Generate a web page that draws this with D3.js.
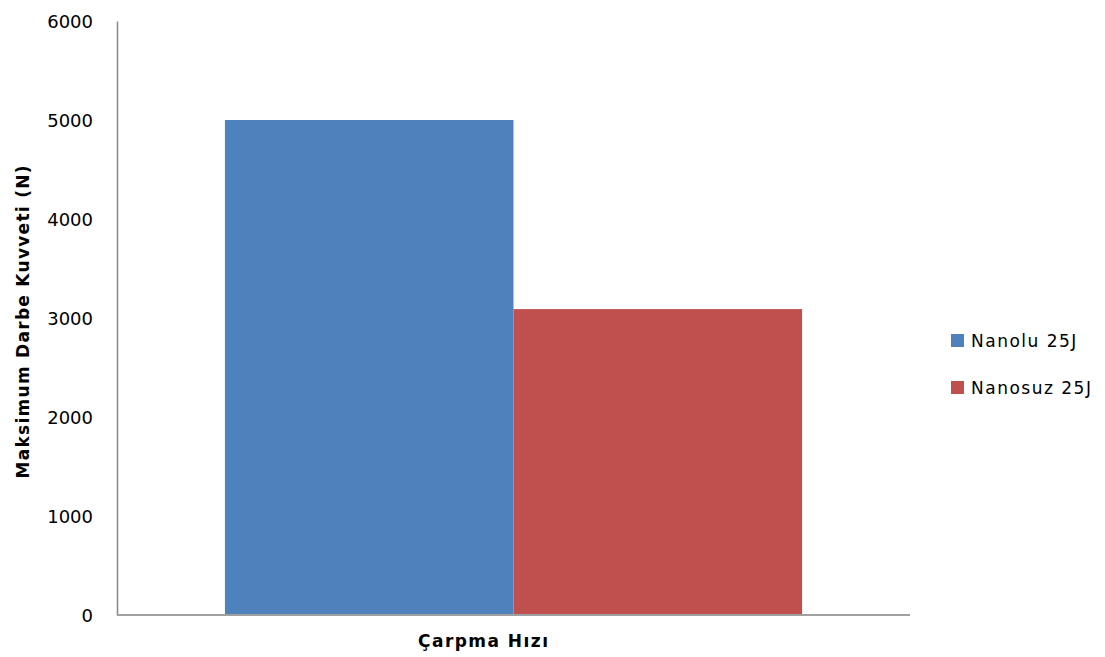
<!DOCTYPE html>
<html>
<head>
<meta charset="utf-8">
<script src="https://cdn.jsdelivr.net/npm/d3@7"></script>
<style>
  body { margin: 0; background: #fff; }
  text { font-family: "DejaVu Sans", Tahoma, sans-serif; fill: #000; }
</style>
</head>
<body>
<div id="chart"></div>
<script>
// data
var categories = ["Çarpma Hızı"];
var seriesNames = ["Nanolu 25J", "Nanosuz 25J"];
var seriesValues = [[5000], [3090]];
var yTicks = [0, 1000, 2000, 3000, 4000, 5000, 6000];
var colors = ["#4f81bd", "#c0504d"];

var width = 1105, height = 657;
var margin = { top: 21, left: 117, right: 195, bottom: 42 };

var svg = d3.select("#chart").append("svg")
  .attr("width", width)
  .attr("height", height);

var y = d3.scaleLinear()
  .domain([0, 6000])
  .range([height - margin.bottom, margin.top]);

var x0 = d3.scaleBand()
  .domain(categories)
  .range([margin.left, width - margin.right])
  .paddingInner(0)
  .paddingOuter(0.187);

var x1 = d3.scaleBand()
  .domain(seriesNames)
  .range([0, x0.bandwidth()]);

// bars
var groups = svg.selectAll(".grp")
  .data(categories)
  .enter().append("g")
  .attr("transform", function (d) { return "translate(" + x0(d) + ",0)"; });

groups.selectAll("rect")
  .data(function (d, i) {
    return seriesNames.map(function (s, j) { return { name: s, value: seriesValues[j][i], idx: j }; });
  })
  .enter().append("rect")
  .attr("x", function (d) { return x1(d.name); })
  .attr("y", function (d) { return y(d.value); })
  .attr("width", x1.bandwidth())
  .attr("height", function (d) { return y(0) - y(d.value); })
  .attr("fill", function (d) { return colors[d.idx]; });

// y axis
var yAxis = svg.append("g")
  .attr("transform", "translate(" + margin.left + ",0)")
  .call(d3.axisLeft(y).tickValues(yTicks).tickSize(0).tickPadding(24).tickFormat(d3.format("d")));
yAxis.select(".domain").attr("stroke", "#868686").attr("stroke-width", 1.5);
yAxis.selectAll("text").style("font-size", "18px").attr("dy", "0.35em");

// x axis
var xAxis = svg.append("g")
  .attr("transform", "translate(0," + y(0) + ")")
  .call(d3.axisBottom(x0).tickSize(0).tickFormat(""));
xAxis.select(".domain")
  .attr("d", "M" + margin.left + ",0H" + (width - margin.right))
  .attr("stroke", "#a0a0a0").attr("stroke-width", 2);

svg.append("text")
  .attr("x", 483)
  .attr("y", 647)
  .attr("text-anchor", "middle")
  .style("font-size", "17px")
  .style("font-weight", "bold")
  .attr("textLength", 130)
  .text(categories[0]);

svg.append("text")
  .attr("transform", "translate(29," + 322 + ") rotate(-90)")
  .attr("text-anchor", "middle")
  .style("font-size", "17px")
  .style("font-weight", "bold")
  .attr("textLength", 313)
  .text("Maksimum Darbe Kuvveti (N)");

// legend
var legend = svg.selectAll(".legend")
  .data(seriesNames)
  .enter().append("g")
  .attr("transform", function (d, i) { return "translate(951," + (334 + i * 47) + ")"; });

legend.append("rect")
  .attr("width", 13).attr("height", 13)
  .attr("fill", function (d, i) { return colors[i]; });

legend.append("text")
  .attr("x", 20).attr("y", 7).attr("dy", "0.35em")
  .style("font-size", "17px")
  .style("letter-spacing", "1.5px")
  .text(function (d) { return d; });
</script>
</body>
</html>
